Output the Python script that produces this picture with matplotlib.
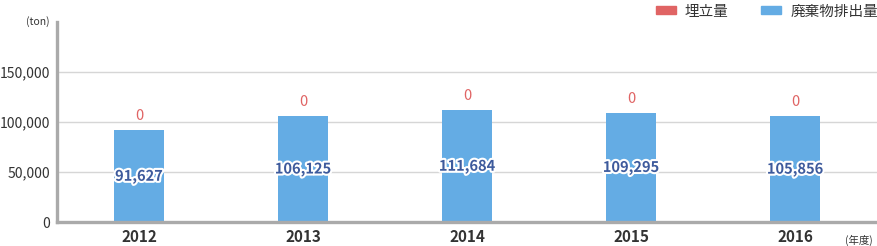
import matplotlib.pyplot as plt
import matplotlib.patheffects as pe
from matplotlib.patches import Patch

plt.rcParams['font.family'] = ['Noto Sans CJK JP', 'DejaVu Sans']

years = ['2012', '2013', '2014', '2015', '2016']
waste = [91627, 106125, 111684, 109295, 105856]   # 廃棄物排出量
landfill = [0, 0, 0, 0, 0]                          # 埋立量

blue = '#64ace4'
red = '#e06464'
label_blue = '#3d5a9c'

fig = plt.figure(figsize=(8.77, 2.46), dpi=100)
ax = fig.add_axes([57 / 877, 24 / 246, 820 / 877, 200 / 246])

x = range(len(years))
ax.bar(x, waste, width=0.305, color=blue, zorder=2)
ax.bar(x, landfill, width=0.305, bottom=waste, color=red, zorder=2)

for i, (w, l) in enumerate(zip(waste, landfill)):
    ax.text(i, w / 2, f'{w:,}', ha='center', va='center', fontsize=10.5,
            color=label_blue, fontweight='bold', zorder=3,
            path_effects=[pe.withStroke(linewidth=3, foreground='white')])
    ax.annotate(f'{l:,}', (i, w + l), xytext=(0, 5), textcoords='offset points',
                ha='center', va='bottom', fontsize=10.5, color=red)

ax.set_xlim(-0.5, 4.5)
ax.set_ylim(0, 200000)
ax.set_yticks([0, 50000, 100000, 150000])
ax.set_yticklabels([f'{v:,}' for v in [0, 50000, 100000, 150000]])
ax.set_xticks(list(x))
ax.set_xticklabels(years, fontweight='bold', fontsize=11, color='#333333')
ax.tick_params(axis='y', length=0, labelsize=10, labelcolor='#333333', pad=5)
ax.tick_params(axis='x', length=0, pad=5)

ax.grid(axis='y', color='#d6d6d6', linewidth=1, zorder=0)
for s in ['top', 'right']:
    ax.spines[s].set_visible(False)
for s in ['left', 'bottom']:
    ax.spines[s].set_color('#aaaaaa')
    ax.spines[s].set_linewidth(2.4)
    ax.spines[s].set_zorder(4)

ax.text(-0.023, 1.0, '(ton)', transform=ax.transAxes, ha='center', va='center',
        fontsize=7.5, color='#333333')
ax.text(0.978, -0.09, '(年度)', transform=ax.transAxes, ha='center', va='center',
        fontsize=7.5, color='#333333')

handles = [Patch(color=red, label='埋立量'), Patch(color=blue, label='廃棄物排出量')]
fig.legend(handles=handles, loc='upper right', bbox_to_anchor=(1.016, 1.035), ncol=2,
           frameon=False, fontsize=10.5, handlelength=1.4, handleheight=0.5,
           columnspacing=2.2, handletextpad=0.6, labelcolor='#333333')

fig.savefig('out.png', dpi=100)
